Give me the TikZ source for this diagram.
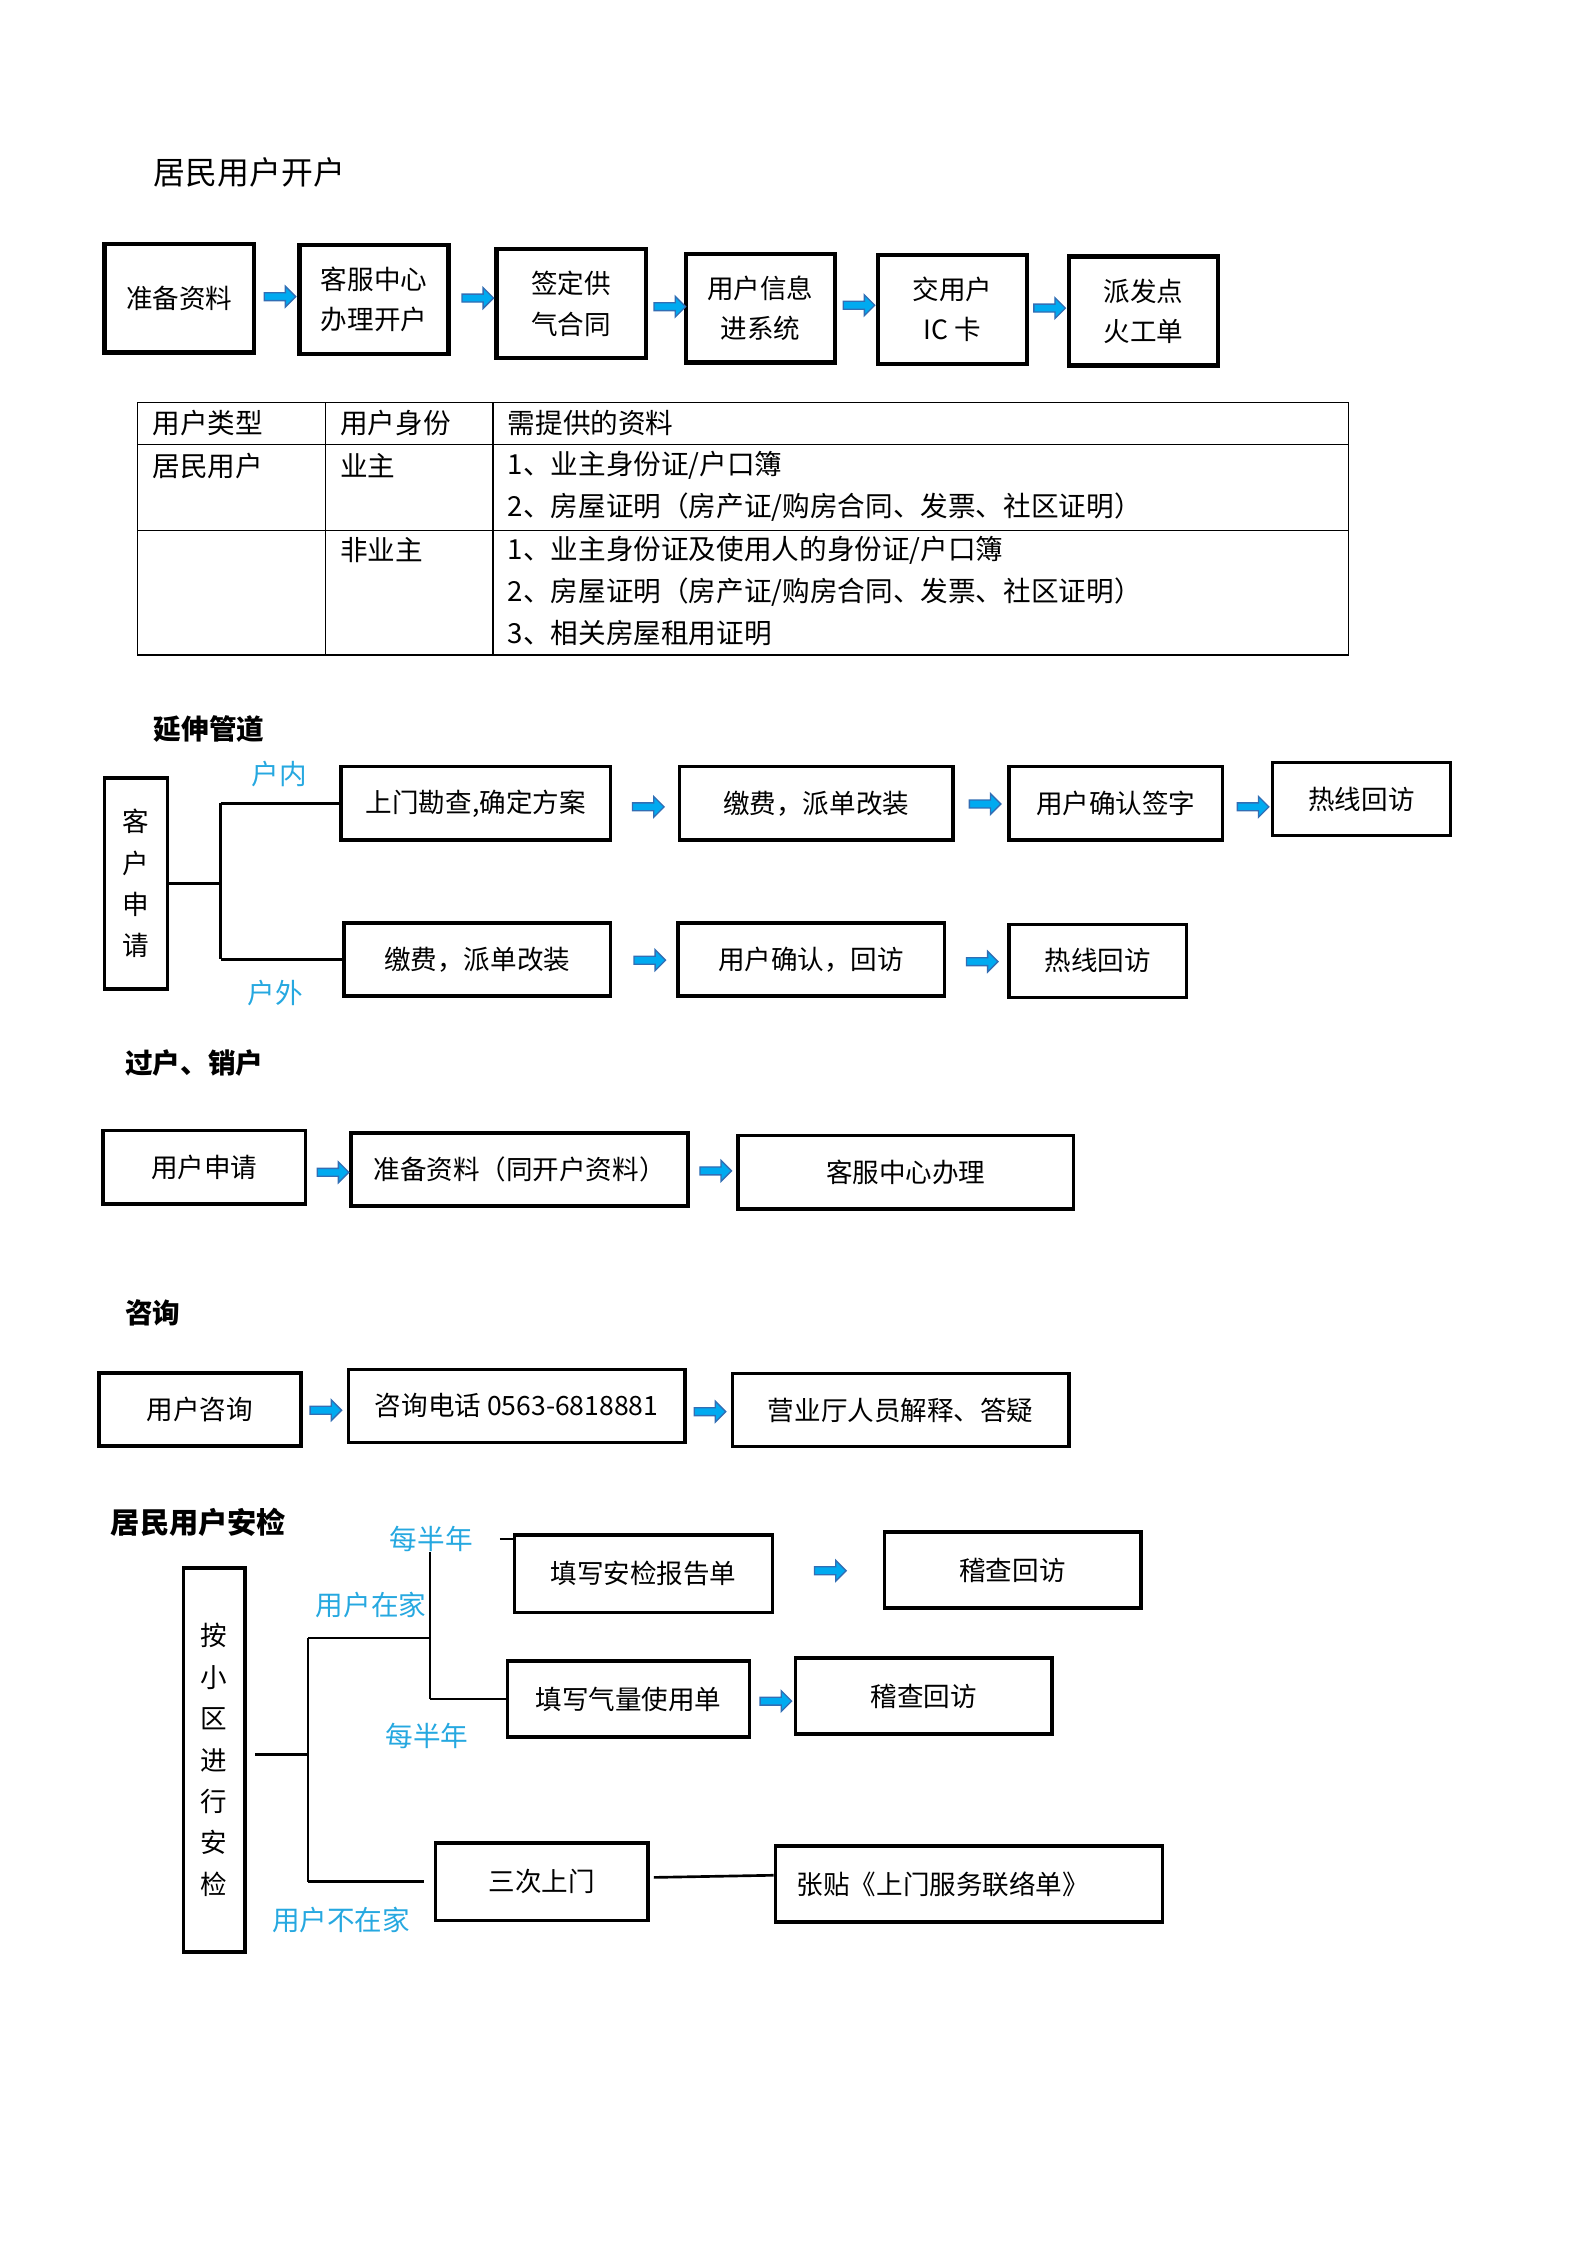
\documentclass[tikz,border=0pt]{standalone}
\usepackage{fontspec}
\setmainfont{Noto Sans CJK SC}
\usetikzlibrary{shapes.arrows}

\newlength\unitpx
\setlength\unitpx{0.01896cm}
\definecolor{labelblue}{RGB}{38,168,224}
\definecolor{arrowfill}{RGB}{0,170,240}
\definecolor{arrowline}{RGB}{50,110,180}
\newcommand{\boxfont}{\fontsize{10pt}{15.1pt}\selectfont}
\newcommand{\tablefont}{\fontsize{10.4pt}{15pt}\selectfont}

\tikzset{
    stepbox/.style={draw=black, line width=1.3pt, align=center, inner sep=0pt, font=\boxfont},
    flowarrow/.style={single arrow, draw=arrowline, fill=arrowfill, line width=0.5pt,
        minimum height=22\unitpx, minimum width=14\unitpx, inner sep=2.3\unitpx,
        single arrow head extend=4.5\unitpx},
    bluelabel/.style={text=labelblue, font=\tablefont},
    heading/.style={anchor=west, inner sep=0pt, font=\fontsize{10.4pt}{14pt}\selectfont\bfseries},
    link/.style={draw=black, line width=1pt},
}

\begin{document}
\begin{tikzpicture}[x=\unitpx, y=-\unitpx]
    \useasboundingbox (0, 0) rectangle (1107.6, 1566.5);

    % open an account
    \node[anchor=west, inner sep=0pt, font=\fontsize{12pt}{14pt}\selectfont] (T_open) at (107, 120) {居民用户开户};

    \begin{scope}[every node/.style={stepbox, line width=1.6pt, minimum width=104\unitpx, minimum height=76\unitpx}]
        \node (O_1) at (125, 208) {准备资料};
        \node (O_2) at (261, 209) {客服中心\\办理开户};
        \node (O_3) at (398.5, 212) {签定供\\气合同};
        \node (O_4) at (530.5, 215) {用户信息\\进系统};
        \node (O_5) at (664.5, 216) {交用户\\IC 卡};
        \node (O_6) at (798, 217) {派发点\\火工单};
    \end{scope}

    \begin{scope}[every node/.style={flowarrow}]
        \node (OA_1) at (194, 207) {};
        \node (OA_2) at (332, 208) {};
        \node (OA_3) at (466, 214) {};
        \node (OA_4) at (598, 213) {};
        \node (OA_5) at (731, 215) {};
    \end{scope}

    % table of documents
    \draw[line width=0.5pt] (96, 281) rectangle (941, 457);
    \draw[line width=0.5pt] (96, 310) -- (941, 310);
    \draw[line width=0.5pt] (96, 370) -- (941, 370);
    \draw[line width=0.5pt] (227, 281) -- (227, 457);
    \draw[line width=0.5pt] (344, 281) -- (344, 457);

    \begin{scope}[every node/.style={anchor=west, inner sep=0pt, font=\tablefont}]
        \node (H_1) at (106, 295) {用户类型};
        \node (H_2) at (237, 295) {用户身份};
        \node (H_3) at (354, 295) {需提供的资料};

        \node (R_1) at (106, 325) {居民用户};
        \node (R_2) at (237, 325) {业主};
        \node (R_3) at (354, 325) {1、业主身份证/户口簿};
        \node (R_4) at (354, 354) {2、房屋证明（房产证/购房合同、发票、社区证明）};

        \node (S_2) at (237, 384) {非业主};
        \node (S_3) at (354, 384) {1、业主身份证及使用人的身份证/户口簿};
        \node (S_4) at (354, 413) {2、房屋证明（房产证/购房合同、发票、社区证明）};
        \node (S_5) at (354, 442) {3、相关房屋租用证明};
    \end{scope}

    % pipe extension
    \node[heading] (T_pipe) at (107, 509) {延伸管道};

    \begin{scope}[every node/.style={stepbox, minimum height=51\unitpx}]
        \node[minimum width=44\unitpx, minimum height=147\unitpx, font=\fontsize{10pt}{15.6pt}\selectfont] (P_0) at (95, 616.5) {客\\户\\申\\请};

        \node[minimum width=188\unitpx] (P_1) at (332, 560.5) {上门勘查,确定方案};
        \node[minimum width=191\unitpx] (P_2) at (569.5, 560.5) {缴费，派单改装};
        \node[minimum width=149\unitpx] (P_3) at (778.5, 560.5) {用户确认签字};
        \node[minimum width=124\unitpx] (P_4) at (950, 557.5) {热线回访};

        \node[minimum width=186\unitpx] (Q_1) at (333, 669.5) {缴费，派单改装};
        \node[minimum width=186\unitpx] (Q_2) at (566, 669.5) {用户确认，回访};
        \node[minimum width=124\unitpx] (Q_3) at (766, 670.5) {热线回访};
    \end{scope}

    \begin{scope}[every node/.style={flowarrow}]
        \node (PA_1) at (451, 563) {};
        \node (PA_2) at (686, 561) {};
        \node (PA_3) at (873, 563) {};
        \node (QA_1) at (452, 670) {};
        \node (QA_2) at (684, 671) {};
    \end{scope}

    \coordinate (P_fork) at (154, 616.5);
    \draw[link] (P_0.east) -- (P_fork);
    \draw[link] (P_fork |- P_1.west) -- (P_fork |- Q_1.west);
    \draw[link] (P_fork |- P_1.west) -- (P_1.west);
    \draw[link] (P_fork |- Q_1.west) -- (Q_1.west);

    \node[bluelabel] (L_in) at (195, 540) {户内};
    \node[bluelabel] (L_out) at (192, 693) {户外};

    % transfer, cancel
    \node[heading] (T_move) at (87, 742) {过户、销户};

    \begin{scope}[every node/.style={stepbox, minimum height=51\unitpx}]
        \node[minimum width=141\unitpx] (M_1) at (142.5, 814.5) {用户申请};
        \node[minimum width=235\unitpx] (M_2) at (362.5, 816) {准备资料（同开户资料）};
        \node[minimum width=234\unitpx] (M_3) at (632, 818) {客服中心办理};
    \end{scope}

    \begin{scope}[every node/.style={flowarrow}]
        \node (MA_1) at (231, 818) {};
        \node (MA_2) at (498, 817) {};
    \end{scope}

    % enquiry
    \node[heading] (T_ask) at (87, 916) {咨询};

    \begin{scope}[every node/.style={stepbox, minimum height=51\unitpx}]
        \node[minimum width=141\unitpx] (K_1) at (139.5, 983.5) {用户咨询};
        \node[minimum width=235\unitpx] (K_2) at (360.5, 981) {咨询电话 0563-6818881};
        \node[minimum width=235\unitpx] (K_3) at (628.5, 984) {营业厅人员解释、答疑};
    \end{scope}

    \begin{scope}[every node/.style={flowarrow}]
        \node (KA_1) at (226, 984) {};
        \node (KA_2) at (494, 985) {};
    \end{scope}

    % safety check
    \node[heading, font=\fontsize{11pt}{14pt}\selectfont\bfseries] (T_check) at (77, 1062) {居民用户安检};

    \begin{scope}[every node/.style={stepbox, minimum height=53\unitpx}]
        \node[minimum width=43\unitpx, minimum height=268\unitpx, font=\fontsize{10pt}{15.6pt}\selectfont] (C_0) at (149.5, 1228) {按\\小\\区\\进\\行\\安\\检};

        \node[minimum width=180\unitpx, minimum height=54\unitpx] (C_1) at (449, 1098) {填写安检报告单};
        \node[minimum width=179\unitpx] (C_2) at (706.5, 1095.5) {稽查回访};
        \node[minimum width=169\unitpx] (C_3) at (438.5, 1185.5) {填写气量使用单};
        \node[minimum width=179\unitpx] (C_4) at (644.5, 1183.5) {稽查回访};
        \node[minimum width=148\unitpx, minimum height=54\unitpx] (C_5) at (378, 1313) {三次上门};
        \node[text width=240\unitpx, inner xsep=15\unitpx, align=left] (C_6) at (676, 1314.5) {张贴《上门服务联络单》};
    \end{scope}

    \begin{scope}[every node/.style={flowarrow}]
        \node (CA_1) at (578, 1096) {};
        \node (CA_2) at (540, 1187) {};
    \end{scope}

    \coordinate (C_fork) at (215, 1224);
    \coordinate (C_home) at (300, 1143);
    \draw[link] ([xshift=6\unitpx]C_0.east |- C_fork) -- (C_fork);
    \draw[link] (C_fork |- C_home) -- (215, 1313);
    \draw[link] (C_fork |- C_home) -- (C_home);
    \draw[link] (300, 1083) -- (C_home |- C_3.west);
    \draw[link] (C_home |- C_3.west) -- (C_3.west);
    \draw[link] ([xshift=-9\unitpx, yshift=-4\unitpx]C_1.north west) -- ([yshift=-4\unitpx]C_1.north west);
    \draw[link] (215, 1313) -- ([xshift=-7\unitpx]C_5.west);
    \draw[link] ([xshift=3\unitpx, yshift=3\unitpx]C_5.east) -- ([yshift=6\unitpx]C_6.west);

    \node[bluelabel] (L_half1) at (301, 1074) {每半年};
    \node[bluelabel] (L_home) at (259, 1120) {用户在家};
    \node[bluelabel] (L_half2) at (298, 1211) {每半年};
    \node[bluelabel] (L_away) at (238, 1340) {用户不在家};
\end{tikzpicture}
\end{document}
